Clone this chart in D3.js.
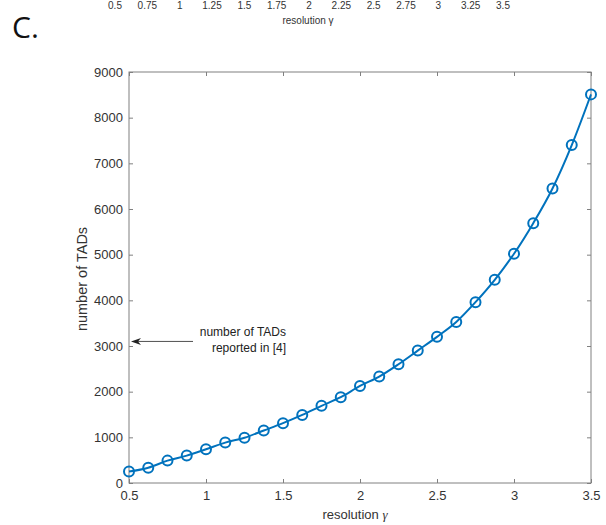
<!DOCTYPE html>
<html><head><meta charset="utf-8">
<script src="https://cdn.jsdelivr.net/npm/d3@7"></script>
<style>body{margin:0;background:#fff}svg{display:block}</style>
</head><body>
<svg id="c" width="606" height="525"></svg>
<script>
const gammaValues = [0.5,0.625,0.75,0.875,1.0,1.125,1.25,1.375,1.5,1.625,1.75,1.875,2.0,2.125,2.25,2.375,2.5,2.625,2.75,2.875,3.0,3.125,3.25,3.375,3.5];
const tadCounts = [250,335,490,600,740,885,990,1150,1310,1490,1690,1880,2125,2330,2600,2900,3200,3525,3960,4450,5020,5690,6450,7400,8510];
const xTicks = [0.5,1,1.5,2,2.5,3,3.5];
const yTicks = [0,1000,2000,3000,4000,5000,6000,7000,8000,9000];
const topTickLabels = ["0.5","0.75","1","1.25","1.5","1.75","2","2.25","2.5","2.75","3","3.25","3.5"];
const reportedTADs = 3100;

const svg = d3.select("#c");
const L=129,R=591,T=72,B=483;
const x = d3.scaleLinear().domain([0.5,3.5]).range([L,R]);
const y = d3.scaleLinear().domain([0,9000]).range([B,T]);
const font = "'Liberation Sans', Arial, sans-serif";
const axisCol = "#808080", textCol = "#333";

// remnants of the previous panel at the top
const xt = d3.scalePoint().domain(topTickLabels).range([115,503]);
svg.append("g").selectAll("text").data(topTickLabels).join("text")
  .attr("x",d=>xt(d)).attr("y",8.5).attr("text-anchor","middle")
  .attr("font-family",font).attr("font-size",10).attr("fill",textCol).text(d=>d);
svg.append("text").attr("x",308).attr("y",24).attr("text-anchor","middle")
  .attr("font-family",font).attr("font-size",10).attr("fill",textCol).text("resolution γ");

svg.append("text").attr("x",12).attr("y",38).attr("font-family","'Open Sans', 'Noto Sans', sans-serif")
  .attr("font-size",30).attr("fill","#111").text("C.");

// frame
svg.append("rect").attr("x",L).attr("y",T).attr("width",R-L).attr("height",B-T)
  .attr("fill","none").attr("stroke",axisCol).attr("stroke-width",1);

const tl = 4;
const gx = svg.append("g").attr("transform",`translate(0,${B})`)
  .call(d3.axisBottom(x).tickValues(xTicks).tickSize(-tl).tickFormat(d3.format("")).tickPadding(8));
const gxTop = svg.append("g").attr("transform",`translate(0,${T})`)
  .call(d3.axisTop(x).tickValues(xTicks).tickSize(-tl).tickFormat(""));
const gy = svg.append("g").attr("transform",`translate(${L},0)`)
  .call(d3.axisLeft(y).tickValues(yTicks).tickSize(-tl).tickFormat(d3.format("d")).tickPadding(6));
const gyR = svg.append("g").attr("transform",`translate(${R},0)`)
  .call(d3.axisRight(y).tickValues(yTicks).tickSize(-tl).tickFormat(""));
[gx,gxTop,gy,gyR].forEach(g=>{
  g.select(".domain").remove();
  g.selectAll(".tick line").attr("stroke",axisCol);
  g.selectAll(".tick text").attr("font-family",font).attr("font-size",13).attr("fill",textCol);
});

// axis labels
const xl = svg.append("text").attr("x",355).attr("y",519).attr("text-anchor","middle")
  .attr("font-family",font).attr("font-size",13).attr("fill",textCol);
xl.append("tspan").text("resolution ");
xl.append("tspan").attr("font-family","'Liberation Serif', serif").attr("font-style","italic").text("γ");
svg.append("text").attr("transform","translate(87,279) rotate(-90)").attr("text-anchor","middle")
  .attr("font-family",font).attr("font-size",14.5).attr("fill",textCol).text("number of TADs");

// annotation
const ay = y(reportedTADs), ax = x(0.5)+2;
svg.append("line").attr("x1",193).attr("x2",ax+6).attr("y1",ay).attr("y2",ay)
  .attr("stroke","#222").attr("stroke-width",0.8);
svg.append("path").attr("d",`M${ax},${ay} L${ax+10},${ay-3.5} L${ax+7},${ay} L${ax+10},${ay+3.5} Z`)
  .attr("fill","#222");
svg.append("text").attr("x",286).attr("y",ay-5).attr("text-anchor","end")
  .attr("font-family",font).attr("font-size",12).attr("fill","#222").text("number of TADs");
svg.append("text").attr("x",286).attr("y",ay+11).attr("text-anchor","end")
  .attr("font-family",font).attr("font-size",12).attr("fill","#222").text("reported in [4]");

// data
const data = gammaValues.map((g,i)=>({g,v:tadCounts[i]}));
const col = "#0072BD";
svg.append("path").datum(data)
  .attr("d",d3.line().x(d=>x(d.g)).y(d=>y(d.v)).curve(d3.curveMonotoneX))
  .attr("fill","none").attr("stroke",col).attr("stroke-width",2);
svg.append("g").selectAll("circle").data(data).join("circle")
  .attr("cx",d=>x(d.g)).attr("cy",d=>y(d.v)).attr("r",5)
  .attr("fill","none").attr("stroke",col).attr("stroke-width",2);
</script>
</body></html>
